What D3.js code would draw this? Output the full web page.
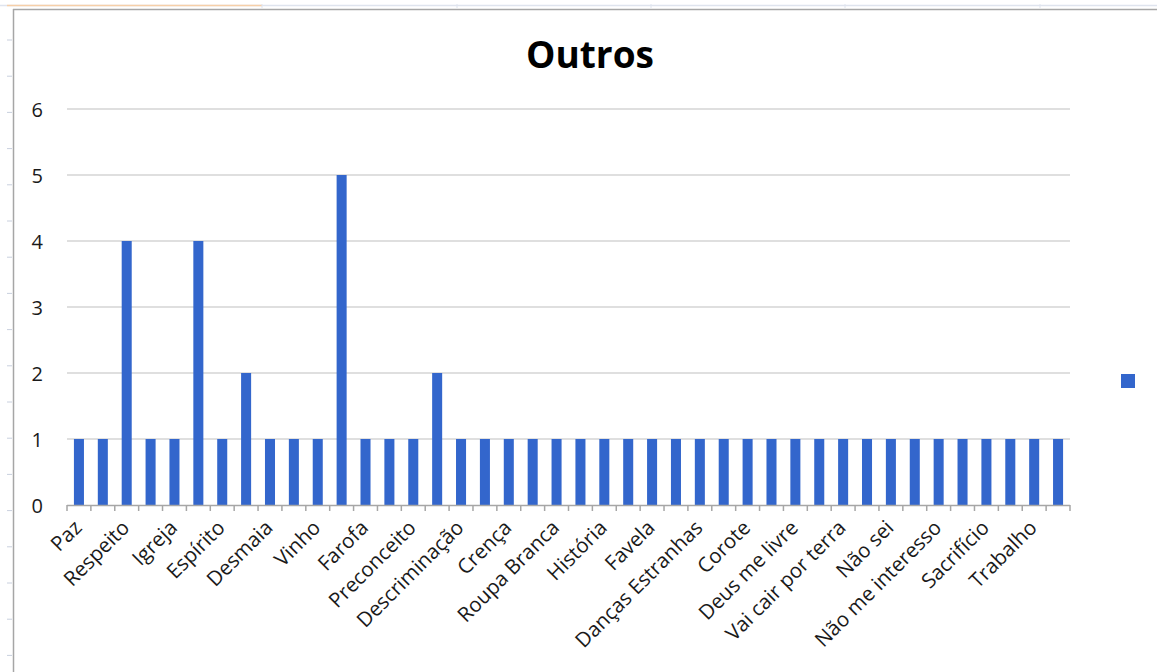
<!DOCTYPE html>
<html>
<head>
<meta charset="utf-8">
<script src="https://cdn.jsdelivr.net/npm/d3@7/dist/d3.min.js"></script>
<style>
  html, body { margin: 0; padding: 0; background: #fff; }
  svg { display: block; }
  text { font-family: "Open Sans", "DejaVu Sans", sans-serif; }
</style>
</head>
<body>
<svg id="chart" width="1157" height="672"></svg>
<script>
// ---- data ----
const chartTitle = "Outros";
// 42 categories; Excel only shows every other label (odd ones are hidden)
const categories = [
  "Paz", null, "Respeito", null, "Igreja", null, "Espírito", null, "Desmaia", null,
  "Vinho", null, "Farofa", null, "Preconceito", null, "Descriminação", null, "Crença", null,
  "Roupa Branca", null, "História", null, "Favela", null, "Danças Estranhas", null, "Corote", null,
  "Deus me livre", null, "Vai cair por terra", null, "Não sei", null, "Não me interesso", null,
  "Sacrifício", null, "Trabalho", null
];
const values = [
  1, 1, 4, 1, 1, 4, 1, 2, 1, 1,
  1, 5, 1, 1, 1, 2, 1, 1, 1, 1,
  1, 1, 1, 1, 1, 1, 1, 1, 1, 1,
  1, 1, 1, 1, 1, 1, 1, 1, 1, 1,
  1, 1
];
const yTicks = [0, 1, 2, 3, 4, 5, 6];

// ---- layout ----
const svg = d3.select("#chart");
const W = 1157, H = 672;
const plot = { left: 67, right: 1070, top: 109, bottom: 505 };
const barColor = "#3366cc";

// page/document frame decorations
svg.append("line").attr("x1", 0).attr("x2", W).attr("y1", 5.5).attr("y2", 5.5)
  .attr("stroke", "#dfe4ee").attr("stroke-width", 1.5);
svg.append("line").attr("x1", 7).attr("x2", 262).attr("y1", 5.5).attr("y2", 5.5)
  .attr("stroke", "#f6cfa8").attr("stroke-width", 1.5);
[262, 457, 651, 845, 1040].forEach(x => {
  svg.append("line").attr("x1", x).attr("x2", x).attr("y1", 4).attr("y2", 8)
    .attr("stroke", "#dfe4ee").attr("stroke-width", 1);
});
for (let y = 40; y < H; y += 36.2) {
  svg.append("line").attr("x1", 7).attr("x2", 12).attr("y1", y).attr("y2", y)
    .attr("stroke", "#c9d0de").attr("stroke-width", 1);
}
svg.append("line").attr("x1", 13.5).attr("x2", 13.5).attr("y1", 9).attr("y2", H)
  .attr("stroke", "#a6a6a6").attr("stroke-width", 1.5);
svg.append("line").attr("x1", 13).attr("x2", W).attr("y1", 9.5).attr("y2", 9.5)
  .attr("stroke", "#a6a6a6").attr("stroke-width", 1.5);

// ---- scales ----
const idx = d3.range(categories.length);
const x = d3.scaleBand().domain(idx).range([plot.left, plot.right]).paddingInner(0.58).paddingOuter(0.29);
const xb = d3.scaleBand().domain(idx).range([plot.left, plot.right]);
const y = d3.scaleLinear().domain([0, 6]).range([plot.bottom, plot.top]);

// title
svg.append("text").attr("x", 590).attr("y", 68).attr("text-anchor", "middle")
  .attr("font-size", 37).attr("font-weight", 700).attr("fill", "#000").text(chartTitle);

// gridlines
svg.append("g").selectAll("line").data(yTicks.filter(d => d > 0)).join("line")
  .attr("x1", plot.left).attr("x2", plot.right)
  .attr("y1", d => y(d)).attr("y2", d => y(d))
  .attr("stroke", "#d4d4d4").attr("stroke-width", 1.5);

// y axis labels
const yAxis = d3.axisLeft(y).tickValues(yTicks).tickSize(0).tickPadding(0).tickFormat(d3.format("d"));
const gy = svg.append("g").attr("transform", `translate(${plot.left - 24},0)`).call(yAxis);
gy.select(".domain").remove();
gy.selectAll("text").attr("font-size", 20).attr("fill", "#1a1a1a")
  .attr("font-family", "'Open Sans', sans-serif").attr("dy", "0.36em");

// bars
svg.append("g").selectAll("rect").data(values).join("rect")
  .attr("x", (d, i) => x(i)).attr("width", x.bandwidth())
  .attr("y", d => y(d)).attr("height", d => y(0) - y(d))
  .attr("fill", barColor);

// x axis baseline and ticks at band boundaries
svg.append("line").attr("x1", plot.left).attr("x2", plot.right)
  .attr("y1", plot.bottom + 0.5).attr("y2", plot.bottom + 0.5)
  .attr("stroke", "#a6a6a6").attr("stroke-width", 1.5);
const bounds = idx.map(i => xb(i)).concat([plot.right]);
svg.append("g").selectAll("line").data(bounds).join("line")
  .attr("x1", d => d).attr("x2", d => d)
  .attr("y1", plot.bottom).attr("y2", plot.bottom + 6)
  .attr("stroke", "#a6a6a6").attr("stroke-width", 1.5);

// x labels (rotated)
svg.append("g").selectAll("text").data(idx.filter(i => categories[i])).join("text")
  .attr("transform", i => `translate(${x(i) + x.bandwidth() / 2 + 4},${plot.bottom + 24}) rotate(-45)`)
  .attr("text-anchor", "end").attr("font-size", 20.5).attr("fill", "#1a1a1a")
  .text(i => categories[i]);

// legend marker (no text)
svg.append("rect").attr("x", 1121).attr("y", 374).attr("width", 14).attr("height", 14).attr("fill", barColor);
</script>
</body>
</html>
